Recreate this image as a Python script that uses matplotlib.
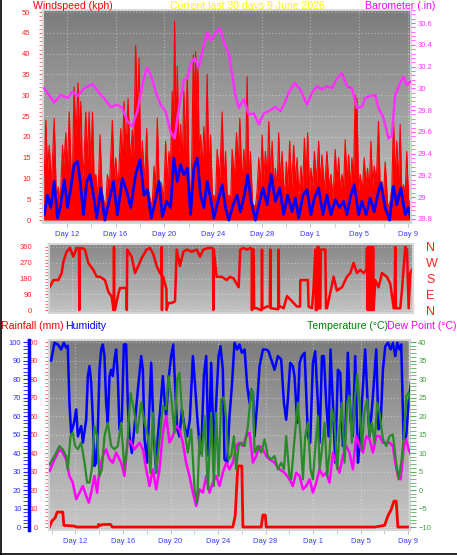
import numpy as np
import matplotlib.pyplot as plt
from matplotlib.colors import LinearSegmentedColormap
from matplotlib.ticker import MultipleLocator, FormatStrFormatter
from matplotlib.lines import Line2D

plt.rcParams['font.family'] = ['Liberation Sans', 'DejaVu Sans']

# Day numbers run on from May: 32 = 1 June, 40 = 9 June
day_ticks = [12, 16, 20, 24, 28, 32, 36, 40]
day_labels = ['Day 12', 'Day 16', 'Day 20', 'Day 24', 'Day 28', 'Day 1', 'Day 5', 'Day 9']

# Wind gusts (kph)
gust_day = [10.10, 10.28, 10.42, 10.56, 10.75, 10.97, 11.15, 11.30, 11.45, 11.65,
            11.75, 11.92, 12.05, 12.20, 12.38, 12.47, 12.60, 12.75, 12.93, 13.05,
            13.15, 13.30, 13.42, 13.56, 13.70, 13.83, 13.97, 14.11, 14.25, 14.38,
            14.55, 14.73, 14.90, 15.06, 15.20, 15.33, 15.50, 15.74, 15.90, 16.02,
            16.20, 16.43, 16.55, 16.70, 16.85, 17.03, 17.20, 17.38, 17.50, 17.65,
            17.80, 17.93, 18.08, 18.20, 18.38, 18.56, 18.72, 18.88, 19.00, 19.16,
            19.30, 19.43, 19.60, 19.76, 19.95, 20.11, 20.25, 20.38, 20.50, 20.66,
            20.76, 20.85, 20.96, 21.07, 21.20, 21.34, 21.48, 21.61, 21.75, 21.89,
            22.05, 22.16, 22.27, 22.38, 22.48, 22.57, 22.66, 22.76, 22.88, 22.98,
            23.12, 23.25, 23.38, 23.52, 23.66, 23.80, 23.95, 24.07, 24.20, 24.34,
            24.55, 24.75, 24.90, 25.03, 25.18, 25.30, 25.45, 25.57, 25.75, 25.93,
            26.07, 26.20, 26.38, 26.53, 26.66, 26.80, 26.95, 27.07, 27.25, 27.48,
            27.62, 27.76, 27.90, 28.03, 28.17, 28.30, 28.45, 28.58, 28.72, 28.85,
            29.00, 29.12, 29.26, 29.39, 29.53, 29.67, 29.85, 30.02, 30.15, 30.29,
            30.45, 30.62, 30.76, 30.90, 31.05, 31.22, 31.36, 31.50, 31.63, 31.77,
            31.92, 32.04, 32.18, 32.32, 32.50, 32.67, 32.80, 32.94, 33.15, 33.35,
            33.52, 33.68, 33.85, 34.03, 34.17, 34.31, 34.45, 34.58, 34.72, 34.85,
            35.00, 35.13, 35.27, 35.40, 35.53, 35.67, 35.74, 35.81, 35.95, 36.08,
            36.25, 36.41, 36.55, 36.68, 36.82, 36.96, 37.10, 37.23, 37.40, 37.58,
            37.72, 37.86, 38.00, 38.13, 38.35, 38.54, 38.68, 38.81, 38.95, 39.08,
            39.22, 39.36, 39.50, 39.63, 39.77, 39.90, 40.05, 40.18]
gust_kph = [5, 24, 12, 18, 9, 24.5, 5, 8, 4, 18,
            13, 21, 12, 26, 10, 12, 32, 20, 33, 18,
            28.5, 10, 15, 26, 14, 26, 13, 26, 9, 11,
            5, 20.5, 7, 4.5, 3, 11, 8, 24, 9, 15,
            7, 22, 14, 28.5, 16, 29.3, 14, 21.7, 16, 42,
            24, 39, 11, 19, 9, 22, 7, 4.5, 3, 13,
            8, 24.5, 6, 9, 5, 19, 9, 16.5, 12, 31,
            22, 47.8, 20, 37, 16, 23, 14, 31, 17, 35,
            8, 6, 16, 39.7, 27, 40.5, 26, 37, 14, 20.5,
            13, 22.5, 14, 35, 12, 20.5, 6, 6, 4, 17,
            10, 26, 9, 16.5, 5, 6, 5, 17, 10, 21,
            12, 24.5, 9, 17, 10, 34.5, 9, 16.5, 4, 3,
            7, 15, 8, 20.5, 10, 16.5, 10, 23.7, 10, 19,
            8, 12.5, 7, 21, 9, 16.5, 5, 14, 8, 19,
            8, 18, 9, 15, 6, 13, 8, 19.7, 10, 21,
            7, 12.5, 8, 16.5, 9, 19, 9, 15.7, 7, 16.5,
            8, 11, 5, 17, 9, 15, 7, 11, 8, 19.3,
            9, 15.7, 8, 15, 10, 30, 20, 29.3, 7, 11,
            7, 15, 8, 12.5, 7, 19, 8, 13, 9, 23.7,
            8, 9.3, 6, 14, 3, 4.5, 8, 24.5, 10, 19,
            9, 23, 6, 8.5, 6, 16.5, 5, 3]

# Average wind (kph)
avg_day = [10.15, 10.42, 10.69, 10.97, 11.24, 11.51, 11.79, 12.06, 12.33, 12.60,
           12.88, 13.10, 13.37, 13.64, 13.91, 14.19, 14.46, 14.79, 15.12, 15.47,
           15.83, 16.15, 16.56, 16.92, 17.25, 17.65, 18.01, 18.34, 18.61, 18.94,
           19.29, 19.57, 19.84, 20.19, 20.52, 20.79, 21.07, 21.34, 21.61, 21.89,
           22.16, 22.43, 22.71, 22.98, 23.25, 23.52, 23.80, 24.07, 24.34, 24.75,
           25.03, 25.30, 25.65, 25.98, 26.25, 26.58, 26.85, 27.13, 27.48, 27.84,
           28.11, 28.44, 28.77, 29.12, 29.48, 29.80, 30.13, 30.49, 30.76, 31.03,
           31.39, 31.71, 32.04, 32.32, 32.67, 33.02, 33.35, 33.68, 34.04, 34.39,
           34.72, 34.99, 35.32, 35.59, 35.95, 36.22, 36.57, 36.90, 37.23, 37.58,
           37.78, 38.13, 38.49, 38.81, 39.09, 39.41, 39.77, 40.04, 40.23]
avg_kph = [1.3, 6, 3, 9.3, 0.5, 3.7, 9.7, 3, 7.7, 13.3,
           14.1, 9.3, 1.3, 9.3, 10.9, 6, 0.5, 7.7, 0, 4.5,
           9.3, 1.3, 10, 6.9, 3, 10.9, 14.5, 6, 7.3, 0.5,
           4.9, 9.3, 0.9, 4.5, 3, 14.9, 9.3, 13.3, 10.9, 12.5,
           1.3, 12.5, 14.9, 6, 3, 9.3, 5.3, 0.5, 3.7, 8.5,
           3, 0, 3.7, 6, 2, 6, 10.9, 4.5, 0, 4.5,
           7.7, 3.7, 10.9, 4.5, 7.7, 1.3, 6, 2, 5.3, 0.5,
           6, 7.3, 1.3, 5.3, 7.7, 1.3, 6, 1.3, 4.9, 3,
           4.5, 1.3, 6, 8.5, 1.3, 4.5, 1.3, 5.3, 2, 6.9,
           8.9, 3, 0, 8.1, 3.7, 7.7, 1.3, 3, 0.5]

# Barometer (inHg)
baro_day = [10.15, 10.97, 11.51, 12.06, 12.47, 12.88, 13.42, 14.11, 14.65, 15.06,
            15.61, 16.15, 16.56, 16.97, 17.38, 17.79, 18.20, 18.56, 18.88, 19.29,
            19.70, 20.11, 20.52, 20.85, 21.20, 21.61, 21.89, 22.16, 22.49, 22.84,
            23.25, 23.52, 23.85, 24.21, 24.56, 24.89, 25.30, 25.57, 25.84, 26.12,
            26.53, 26.94, 27.35, 27.76, 28.17, 28.71, 29.12, 29.53, 29.94, 30.21,
            30.68, 31.17, 31.71, 32.12, 32.53, 32.94, 33.35, 33.76, 34.17, 34.58,
            34.99, 35.40, 35.81, 36.22, 36.49, 36.90, 37.31, 37.58, 37.99, 38.40,
            38.67, 38.95, 39.36, 39.63, 39.90, 40.18]
baro_in = [30.00, 29.87, 29.94, 29.91, 29.97, 29.93, 30.00, 30.04, 29.96, 29.91,
           29.83, 29.85, 29.82, 29.70, 29.65, 29.79, 30.03, 30.19, 30.13, 29.97,
           29.85, 29.79, 29.60, 29.54, 29.82, 30.08, 30.09, 30.22, 30.28, 30.19,
           30.40, 30.51, 30.44, 30.51, 30.55, 30.43, 30.31, 30.13, 29.93, 29.82,
           29.90, 29.76, 29.77, 29.67, 29.77, 29.80, 29.83, 29.79, 29.88, 29.96,
           30.05, 29.99, 29.85, 29.96, 30.02, 29.99, 30.02, 30.00, 30.09, 30.14,
           30.02, 30.00, 29.82, 29.83, 29.91, 29.93, 29.94, 29.82, 29.73, 29.54,
           29.56, 29.94, 30.05, 30.11, 30.03, 30.06]

# Wind direction (degrees)
dir_day = [10.20, 10.48, 10.89, 11.17, 11.31, 11.58, 11.86, 12.13, 12.41, 12.60,
           12.63, 12.66, 12.83, 13.10, 13.37, 13.79, 14.07, 14.34, 14.75, 15.03,
           15.31, 15.42, 15.44, 15.48, 15.50, 15.52, 15.58, 15.86, 16.00, 16.55,
           16.56, 16.60, 16.96, 17.24, 17.51, 17.79, 18.20, 18.48, 18.75, 19.03,
           19.31, 19.44, 19.45, 19.47, 19.50, 19.58, 19.72, 19.84, 19.86, 19.99,
           20.28, 20.55, 20.69, 20.96, 21.24, 21.52, 21.93, 22.35, 22.62, 22.89,
           23.31, 23.59, 23.70, 23.72, 23.76, 24.00, 24.41, 24.83, 25.10, 25.40,
           25.82, 25.95, 26.23, 26.51, 26.78, 26.90, 26.92, 26.95, 27.06, 27.10,
           27.33, 27.61, 27.72, 27.75, 27.78, 27.88, 28.16, 28.40, 28.44, 28.47,
           28.57, 28.99, 29.10, 29.13, 29.16, 29.26, 29.54, 29.82, 30.09, 30.37,
           30.64, 30.90, 30.92, 31.47, 31.55, 31.61, 31.89, 32.02, 32.16, 32.20,
           32.30, 32.35, 32.44, 32.48, 32.58, 32.62, 32.99, 33.05, 33.13, 33.68,
           33.95, 34.37, 34.78, 35.06, 35.33, 35.61, 35.89, 36.16, 36.40, 36.44,
           36.50, 36.55, 36.62, 36.68, 36.76, 36.82, 36.90, 36.95, 36.99, 37.13,
           37.40, 37.68, 38.09, 38.37, 38.65, 38.72, 38.78, 38.84, 39.20, 39.33,
           39.61, 39.75, 39.89, 40.02, 40.16]
dir_deg = [133, 171, 171, 211, 276, 333, 354, 305, 354, 350,
           0, 350, 354, 345, 268, 229, 190, 190, 171, 105,
           76, 20, 0, 10, 360, 5, 0, 93, 126, 126,
           0, 345, 305, 211, 251, 297, 345, 354, 320, 251,
           211, 200, 360, 0, 190, 190, 149, 120, 0, 40,
           40, 50, 345, 251, 333, 345, 333, 345, 305, 345,
           354, 354, 350, 0, 345, 190, 190, 171, 190, 180,
           130, 345, 354, 345, 354, 350, 0, 345, 345, 10,
           10, 0, 0, 345, 10, 10, 20, 20, 345, 10,
           10, 5, 5, 345, 20, 20, 10, 80, 60, 40,
           20, 20, 171, 171, 171, 20, 10, 130, 345, 0,
           0, 360, 360, 10, 10, 345, 345, 10, 10, 190,
           111, 130, 190, 211, 269, 211, 229, 211, 230, 354,
           0, 360, 0, 360, 0, 360, 0, 360, 0, 171,
           130, 211, 190, 150, 10, 10, 360, 10, 10, 111,
           360, 345, 10, 211, 229]

# Humidity (%)
hum_day = [9.95, 10.23, 10.51, 10.79, 11.02, 11.21, 11.35, 11.49, 11.63, 11.86,
           12.06, 12.20, 12.48, 12.62, 12.90, 13.04, 13.18, 13.32, 13.46, 13.60,
           13.74, 13.88, 14.02, 14.16, 14.30, 14.44, 14.58, 14.72, 14.86, 15.00,
           15.14, 15.28, 15.42, 15.56, 15.70, 15.90, 16.07, 16.26, 16.40, 16.55,
           16.74, 16.97, 17.25, 17.53, 17.67, 17.81, 18.03, 18.23, 18.37, 18.59,
           18.79, 18.93, 19.15, 19.35, 19.49, 19.63, 19.83, 20.05, 20.22, 20.39,
           20.56, 20.75, 20.95, 21.17, 21.40, 21.62, 21.88, 22.07, 22.24, 22.44,
           22.58, 22.80, 23.00, 23.20, 23.42, 23.64, 23.84, 24.04, 24.20, 24.40,
           24.54, 24.77, 24.96, 25.16, 25.38, 25.61, 25.80, 26.00, 26.23, 26.45,
           26.65, 26.79, 26.93, 27.07, 27.29, 27.49, 27.77, 28.05, 28.25, 28.47,
           28.75, 29.03, 29.31, 29.54, 29.73, 29.87, 30.07, 30.29, 30.43, 30.66,
           30.86, 31.05, 31.28, 31.56, 31.75, 31.98, 32.17, 32.40, 32.54, 32.74,
           32.90, 33.10, 33.30, 33.46, 33.66, 33.86, 34.08, 34.28, 34.50, 34.70,
           34.92, 35.15, 35.34, 35.54, 35.77, 35.91, 36.10, 36.38, 36.61, 36.75,
           37.03, 37.31, 37.50, 37.67, 37.87, 38.07, 38.29, 38.52, 38.71, 38.91,
           39.08, 39.27, 39.41, 39.61, 39.83, 40.03, 40.26]
hum_pct = [90, 99.6, 98.7, 96, 99.6, 97, 98, 67, 51, 56,
           63.6, 49, 54.6, 45.6, 58, 81.6, 87, 78, 58, 33,
           34.8, 52.8, 85, 96, 98.7, 92.4, 67, 56, 81.6, 85,
           81.6, 90.6, 96, 81.6, 52.8, 58, 98.7, 98.7, 67, 49,
           40, 54.6, 74.4, 92.4, 85, 47.4, 34.8, 67, 88.8, 49,
           29.4, 49, 65.4, 81.6, 69, 60, 79.8, 92.4, 98.7, 76.2,
           52.8, 49, 63.6, 54.6, 49, 58, 92.4, 76.2, 60, 43.8,
           40, 81.6, 92.4, 38.4, 88.8, 38.4, 67, 92.4, 97.8, 85,
           36.6, 34.8, 60, 76.2, 99.6, 96, 98.7, 94.2, 96, 76.2,
           67, 74.4, 72.6, 49, 67, 87, 96, 96, 95, 90.6,
           85, 92.4, 90.6, 67, 58, 69, 88.8, 87, 81.6, 56.4,
           88.8, 92.4, 94.2, 49, 45.6, 88.8, 95, 67, 45.6, 92.4,
           92.4, 67, 49, 96, 67, 34.8, 85, 83.4, 43.8, 49,
           94.2, 58, 49, 92.4, 34.8, 45.6, 67, 96, 63.6, 49,
           70.8, 96, 52.8, 54.6, 85, 97.8, 99.6, 96, 99.6, 92.4,
           99.6, 96, 98.7, 47.4, 49, 67, 79.8]

# Temperature (C)
temp_day = [9.81, 10.23, 10.65, 10.93, 11.21, 11.35, 11.58, 11.77, 11.97, 12.20,
            12.48, 12.76, 12.98, 13.18, 13.37, 13.60, 13.82, 14.02, 14.22, 14.44,
            14.72, 15.00, 15.28, 15.56, 15.84, 16.12, 16.35, 16.63, 16.91, 17.19,
            17.53, 17.81, 18.09, 18.31, 18.51, 18.79, 19.07, 19.35, 19.63, 19.83,
            20.05, 20.33, 20.56, 20.75, 20.95, 21.17, 21.45, 21.74, 22.02, 22.24,
            22.44, 22.63, 22.86, 23.14, 23.42, 23.64, 23.84, 24.04, 24.26, 24.49,
            24.68, 24.88, 25.10, 25.33, 25.52, 25.72, 25.94, 26.23, 26.51, 26.79,
            26.93, 27.07, 27.35, 27.63, 27.91, 28.19, 28.47, 28.75, 29.03, 29.31,
            29.54, 29.73, 30.01, 30.15, 30.38, 30.71, 30.94, 31.14, 31.33, 31.56,
            31.78, 31.98, 32.17, 32.40, 32.54, 32.74, 32.96, 33.18, 33.38, 33.58,
            33.80, 34.03, 34.22, 34.42, 34.64, 34.87, 35.06, 35.26, 35.48, 35.71,
            35.91, 36.10, 36.33, 36.55, 36.75, 36.94, 37.17, 37.39, 37.59, 37.87,
            38.15, 38.43, 38.71, 38.99, 39.19, 39.41, 39.64, 39.83, 40.03, 40.26]
temp_c = [6.9, 9.2, 11.9, 11, 9.2, 5.6, 14.6, 15.5, 11.9, 11,
          12.8, 7.4, 2, 2, 5.6, 17.3, 14.6, 3.8, 5.6, 14.6,
          18.2, 11.9, 11, 11.9, 18.2, 5.6, 11.9, 26.3, 21.8, 15.5,
          23.6, 18.2, 14.6, 4.7, 20.9, 4.7, 13.7, 22.7, 21.8, 30.8,
          25.4, 15.5, 29.9, 31.7, 21.8, 16.4, 10.1, 16.4, 0.2, -3.4,
          14.6, 9.2, 20, 0.2, 20.9, 1.1, 20.9, 3.8, 24.5, 25,
          19.1, 8.3, 9.2, 14.6, 5.6, 11.9, 12.8, 11.9, 17.3, 27.2,
          26.3, 10.1, 11.9, 10.1, 13.7, 9.2, 8.3, 9.2, 5.6, 7.4,
          5.6, 14.6, 3.8, 2.9, 11.9, 23.6, 14.6, 2.9, 14.6, 18.2,
          5.6, 2.9, 11, 20, 5.6, 11, 18.2, 3.8, 10.1, 21.8,
          18.2, 5.6, 16.4, 23.6, 7.4, 23.6, 25.4, 12.8, 23.6, 31.3,
          23.6, 11, 21.8, 24.5, 14.6, 18.2, 12.8, 23.6, 20.9, 13.7,
          11.9, 14.6, 15, 7.4, 2.9, 7.4, 14.6, 25.4, 26.3, 21.8]

# Dew point (C)
dew_day = [9.81, 10.23, 10.65, 10.93, 11.21, 11.49, 11.77, 12.06, 12.34, 12.62,
           12.90, 13.12, 13.32, 13.60, 13.82, 14.02, 14.30, 14.58, 14.86, 15.14,
           15.42, 15.84, 16.12, 16.40, 16.69, 16.97, 17.39, 17.67, 17.95, 18.23,
           18.51, 18.79, 19.07, 19.35, 19.63, 19.91, 20.19, 20.47, 20.75, 21.03,
           21.31, 21.59, 21.88, 22.16, 22.44, 22.72, 23.00, 23.28, 23.56, 23.84,
           24.12, 24.40, 24.68, 24.96, 25.24, 25.52, 25.80, 26.09, 26.37, 26.65,
           26.93, 27.21, 27.49, 27.77, 28.05, 28.33, 28.75, 29.17, 29.59, 30.01,
           30.29, 30.57, 30.86, 31.14, 31.42, 31.70, 31.98, 32.26, 32.54, 32.82,
           33.10, 33.38, 33.66, 33.94, 34.22, 34.50, 34.78, 35.06, 35.34, 35.62,
           35.91, 36.19, 36.47, 36.75, 37.03, 37.31, 37.59, 37.87, 38.15, 38.43,
           38.71, 38.91, 39.13, 39.36, 39.64, 39.83, 40.03, 40.26]
dew_c = [5.1, 8.3, 11, 10.1, 8.3, 3.8, 2, -2.5, -0.7, 1.1,
         -1.6, -3.4, -0.7, 3.8, -0.7, 5.6, 9.2, 11, 8.3, 7.4,
         10.1, 7.4, 3.8, 13.7, 12.8, 11, 12.8, 11, 5.6, 1.1,
         5.6, 0.2, 5.6, 15.5, 20, 12.8, 14.6, 17.3, 16.4, 12.8,
         7.4, 3.8, -0.7, -4.3, 0.2, -0.7, 3.8, -0.7, 2, 3.8,
         1.1, 4.7, 7.4, 5.6, 7.4, 11.9, 12.8, 11.9, 14.6, 15.5,
         7.4, 9.2, 11.9, 11, 9.2, 8.3, 7.4, 5.6, 4.7, 2.9,
         1.1, 4.7, 3.8, 0.2, 1.1, 2.9, -0.7, 2, 5.6, 3.8,
         4.7, 2, 10.1, 7.4, 4.7, 9.2, 11.9, 10.1, 5.6, 14.6,
         11.9, 10.1, 14.6, 13.7, 10.1, 14.6, 14.6, 12.8, 12.8, 12.8,
         11.9, 7.4, 3.8, 2.9, 11.9, 13.7, 11, 9.2]

# Rainfall (mm)
rain_day = [9.81, 10.01, 10.29, 10.46, 10.93, 11.02, 11.92, 12.06, 13.88, 13.94,
            14.10, 14.30, 14.95, 15.09, 25.24, 25.44, 25.66, 26.00, 26.09, 27.63,
            27.77, 27.97, 28.05, 37.17, 38.01, 38.29, 38.57, 38.80, 38.99, 39.13,
            40.20]
rain_mm = [0, 3.2, 5, 8.1, 8.1, 0.9, 0.5, 0, 0, 1.4,
           0.9, 1.4, 1.4, 0, 0, 6, 33, 33, 0, 0,
           6.5, 6.5, 0, 0, 0.9, 6, 9.5, 14, 14, 0,
           0]

W, H = 457, 555
fig = plt.figure(figsize=(W / 100, H / 100), dpi=100)
fig.patch.set_facecolor('white')

LBL = 5.5      # tick label size
TTL = 7.6      # header text size
DAYBLUE = '#3a3aff'


def rect(x0, y0, x1, y1):
    return [x0 / W, 1 - y1 / H, (x1 - x0) / W, (y1 - y0) / H]


def panel(name, box, top, bottom):
    bg = fig.add_axes(box, label=name + '_bg')
    cmap = LinearSegmentedColormap.from_list(name, [top, bottom])
    bg.imshow(np.linspace(0, 1, 128).reshape(-1, 1), cmap=cmap,
              aspect='auto', extent=[0, 1, 0, 1])
    bg.set_axis_off()
    ax = fig.add_axes(box, label=name)
    ax.set_facecolor('none')
    for s in ax.spines.values():
        s.set_color('#d6d6d6')
        s.set_linewidth(1.5)
    ax.grid(True, color='white', alpha=0.35, linestyle=':', linewidth=0.9)
    ax.set_axisbelow(True)
    return ax


def day_axis(ax, labels=True):
    ax.set_xticks(day_ticks)
    ax.set_xticklabels(day_labels if labels else [])
    ax.xaxis.set_minor_locator(MultipleLocator(2))
    ax.tick_params(axis='x', which='both', color='#c4c4c4', length=3,
                   labelsize=LBL, labelcolor=DAYBLUE, pad=3)


def header(x, y, s, color):
    fig.text(x / W, 1 - y / H, s, color=color, fontsize=TTL,
             ha='left', va='center')


# ---- wind speed + barometer
ax1 = panel('wind', rect(43, 10, 411, 223), '#7c7c7c', '#c8c8c8')
ax1.fill_between(gust_day, gust_kph, 0, color='#ff0000', linewidth=0)
ax1.plot(gust_day, gust_kph, color='#ff0000', linewidth=0.8)
ax1.plot(avg_day, avg_kph, color='#0000ff', linewidth=2)
ax1.set_xlim(10.05, 40.25)
ax1.set_ylim(-0.7, 50.5)
ax1.set_yticks(np.arange(0, 51, 5))
ax1.yaxis.set_minor_locator(MultipleLocator(1))
ax1.tick_params(axis='y', which='both', color='#ff6060', labelcolor='#ff2020',
                labelsize=LBL, length=3, pad=6)
day_axis(ax1)

ax1b = ax1.twinx()
ax1b.plot(baro_day, baro_in, color='#ff30ff', linewidth=1.8)
ax1b.set_ylim(28.763, 30.72)
ax1b.set_yticks(np.arange(28.8, 30.61, 0.2))
ax1b.yaxis.set_major_formatter(FormatStrFormatter('%g'))
ax1b.yaxis.set_minor_locator(MultipleLocator(0.04))
ax1b.tick_params(axis='y', which='both', color='#ff50ff', labelcolor='#ff30ff',
                 labelsize=LBL, length=3, pad=2)
for s in ax1b.spines.values():
    s.set_visible(False)

header(33, 6, 'Windspeed (kph)', '#ff0000')
header(170, 6, 'Current last 30 days 9 June 2026', '#ffff00')
header(365, 6, 'Barometer (.in)', '#ff00ff')

# ---- wind direction
ax2 = panel('dir', rect(49, 244, 413, 313), '#888888', '#c4c4c4')
ax2.plot(dir_day, dir_deg, color='#ff0000', linewidth=1.8)
ax2.set_xlim(10.12, 40.25)
ax2.set_ylim(-17, 377)
ax2.set_yticks([0, 90, 180, 270, 360])
ax2.yaxis.set_minor_locator(MultipleLocator(18))
ax2.tick_params(axis='y', which='both', color='#ff6060', labelcolor='#ff2020',
                labelsize=LBL, length=3, pad=9)
ax2.set_xticks(day_ticks)
ax2.tick_params(axis='x', length=0, labelbottom=False)

ax2r = ax2.twinx()
ax2r.set_ylim(-17, 377)
ax2r.set_yticks([0, 90, 180, 270, 360])
ax2r.set_yticklabels(['N', 'E', 'S', 'W', 'N'])
ax2r.tick_params(axis='y', length=0, labelsize=9, labelcolor='#ff2020', pad=9.4)
for s in ax2r.spines.values():
    s.set_visible(False)

# ---- rain / humidity / temperature / dew point
ax3 = panel('thp', rect(49, 340, 410, 530), '#7c7c7c', '#c8c8c8')
ax3.plot(rain_day, rain_mm, color='#ff0000', linewidth=2)
ax3.set_xlim(9.77, 40.15)
ax3.set_ylim(-1.6, 101.1)
ax3.set_yticks(np.arange(0, 101, 10))
ax3.yaxis.set_minor_locator(MultipleLocator(2))
ax3.tick_params(axis='y', which='both', color='#ff6060', labelcolor='#ff3030',
                labelsize=LBL, length=3, pad=5)
day_axis(ax3)

ax3h = ax3.twinx()
ax3h.plot(hum_day, hum_pct, color='#0000ff', linewidth=1.8)
ax3h.set_ylim(-1.6, 101.1)
ax3h.yaxis.tick_left()
ax3h.set_yticks(np.arange(0, 101, 10))
ax3h.yaxis.set_minor_locator(MultipleLocator(2))
for k, s in ax3h.spines.items():
    s.set_visible(k == 'left')
ax3h.spines['left'].set_position(('outward', 14.4))
ax3h.spines['left'].set_color('#0000ff')
ax3h.spines['left'].set_linewidth(2.5)
ax3h.tick_params(axis='y', which='both', color='#2020ff', labelcolor='#3030ff',
                 labelsize=LBL, length=4, pad=1.5)

ax3t = ax3.twinx()
ax3t.plot(dew_day, dew_c, color='#ff00ff', linewidth=1.8)
ax3t.plot(temp_day, temp_c, color='#2a8a2a', linewidth=1.6)
ax3t.set_ylim(-10.8, 40.55)
ax3t.set_yticks(np.arange(-10, 41, 5))
ax3t.yaxis.set_minor_locator(MultipleLocator(1))
ax3t.tick_params(axis='y', which='both', color='#60b060', labelcolor='#40a040',
                 labelsize=LBL, length=4, pad=2)
for s in ax3t.spines.values():
    s.set_visible(False)

header(1, 326, 'Rainfall (mm)', '#ff0000')
header(65, 326, 'Humidity', '#0000ff')
header(307, 326, 'Temperature (°C)', '#008000')
header(387, 326, 'Dew Point (°C)', '#ff00ff')

# outer frame (left and bottom edges)
fig.add_artist(Line2D([0.5 / W, 0.5 / W], [0, 1], color='black', linewidth=1.2))
fig.add_artist(Line2D([0, 1], [1 - 553.5 / H, 1 - 553.5 / H], color='black', linewidth=1.2))

fig.savefig('out.png', dpi=100)
